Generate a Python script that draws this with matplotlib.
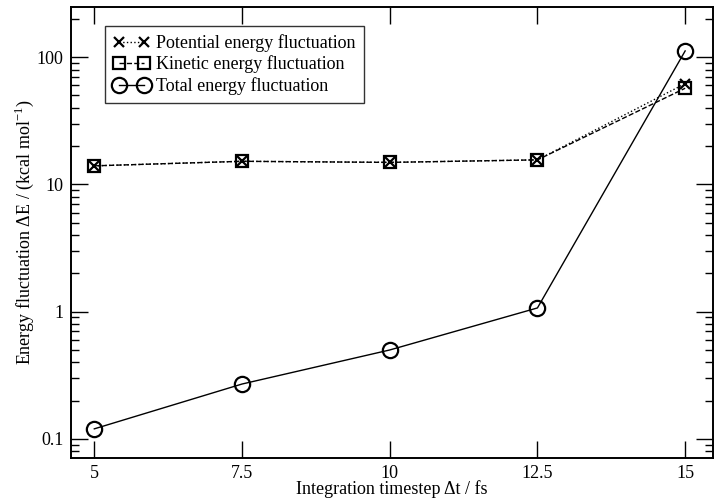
import matplotlib
matplotlib.use("Agg")
import matplotlib.pyplot as plt
from matplotlib.ticker import LogLocator, FixedLocator, NullFormatter, FuncFormatter

plt.rcParams['font.family'] = ['Liberation Serif', 'DejaVu Serif']
plt.rcParams['mathtext.fontset'] = 'custom'
plt.rcParams['mathtext.rm'] = 'Liberation Serif'

timestep = [5, 7.5, 10, 12.5, 15]
potential = [14.0, 15.2, 14.9, 15.6, 62.0]
kinetic = [14.0, 15.2, 14.9, 15.6, 57.0]
total = [0.12, 0.27, 0.50, 1.07, 112.0]
xtick_labels = ['5', '7.5', '10', '12.5', '15']

fig = plt.figure(figsize=(7.16, 5.0), dpi=100)
ax = fig.add_axes([0.0987, 0.084, 0.897, 0.902])

ax.plot(timestep, potential, color='black', ls=':', lw=1.0, marker='x',
        ms=7, mew=1.6, label='Potential energy fluctuation')
ax.plot(timestep, kinetic, color='black', ls='--', lw=1.0, marker='s',
        ms=9, mew=1.6, mfc='none', label='Kinetic energy fluctuation')
ax.plot(timestep, total, color='black', ls='-', lw=1.0, marker='o',
        ms=11, mew=1.6, mfc='none', label='Total energy fluctuation')

ax.set_yscale('log')
ax.set_xlim(4.6, 15.47)
ax.set_ylim(0.0708, 248)

ax.xaxis.set_major_locator(FixedLocator(timestep))
ax.set_xticklabels(xtick_labels)
ax.yaxis.set_major_locator(LogLocator(base=10, numticks=10))
ax.yaxis.set_minor_locator(LogLocator(base=10, subs=range(2, 10), numticks=20))
ax.yaxis.set_minor_formatter(NullFormatter())
ax.yaxis.set_major_formatter(FuncFormatter(lambda v, p: f'{v:g}'))

ax.tick_params(which='both', direction='in', top=True, right=True,
               width=1.0, labelsize=13)
ax.tick_params(axis='y', pad=5)
ax.tick_params(axis='x', pad=5)
ax.tick_params(which='major', length=12)
ax.tick_params(which='minor', length=6)
for s in ax.spines.values():
    s.set_linewidth(1.4)

ax.set_xlabel('Integration timestep \u0394t / fs', fontsize=13)
ax.xaxis.set_label_coords(0.5, -0.05)
ax.set_ylabel('Energy fluctuation \u0394E / (kcal mol$^{-1}$)', fontsize=13, labelpad=0.5)

leg = ax.legend(loc='upper left', bbox_to_anchor=(0.0534, 0.958), fontsize=13,
                frameon=True, fancybox=False, edgecolor='black', handlelength=2.0,
                handletextpad=0.4, borderpad=0.45, labelspacing=0.2, numpoints=2,
                borderaxespad=0)
leg.get_frame().set_linewidth(1.0)

fig.savefig('out.png', dpi=100)
